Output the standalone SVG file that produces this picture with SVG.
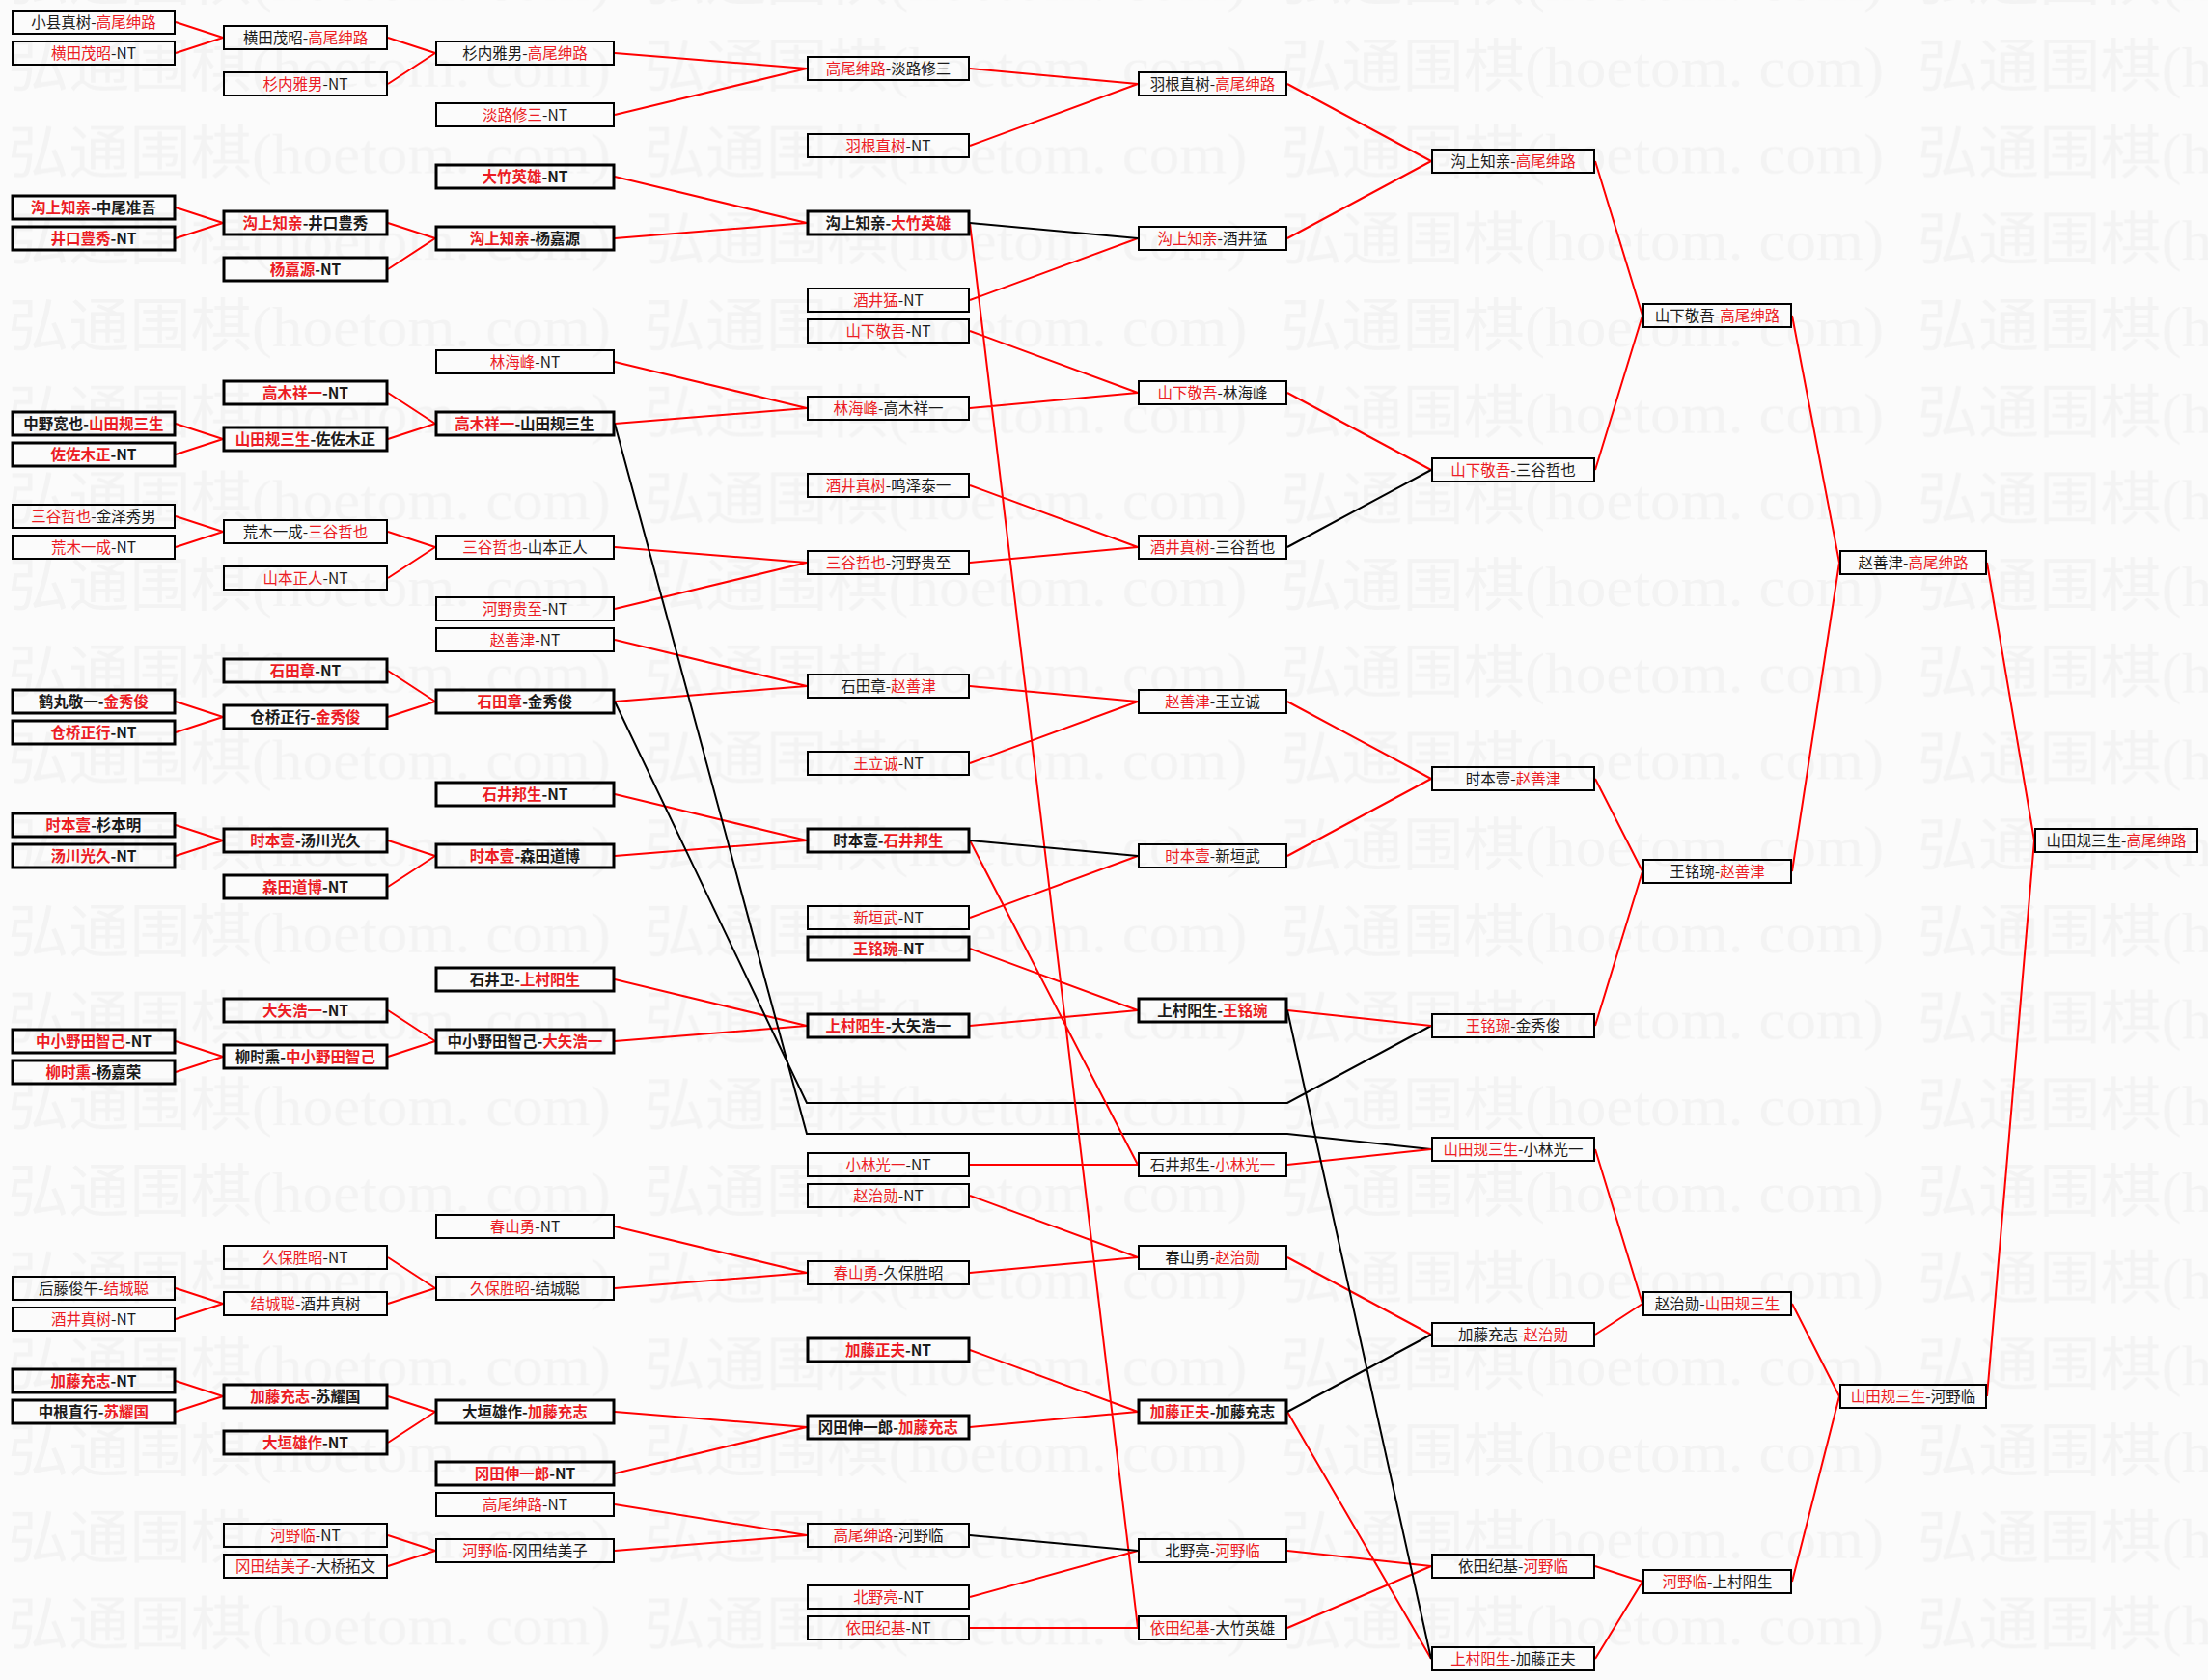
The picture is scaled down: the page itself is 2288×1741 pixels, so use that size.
<svg xmlns="http://www.w3.org/2000/svg" width="2288" height="1741" viewBox="0 0 2288 1741">
<style>
.n rect{fill:none;stroke:#000;stroke-width:2}
.b rect{stroke-width:3}
.n text{font-family:"Noto Sans CJK SC","Noto Sans",sans-serif;font-size:15.5px;text-anchor:middle;fill:#1a1a1a}
.b text{font-weight:bold}
.n .r{fill:#ec1c24}
.red{stroke:#ff0000;stroke-width:2;fill:none}
.blk{stroke:#000;stroke-width:2;fill:none}
</style>
<defs>
<pattern id="wm" patternUnits="userSpaceOnUse" x="0" y="22" width="659.6" height="89.7">
<text x="8" y="68" font-family="'Liberation Serif','Noto Sans CJK SC',serif" font-size="60" fill="#f3f3f3" textLength="625" lengthAdjust="spacingAndGlyphs">弘通围棋(hoetom. com)</text>
</pattern>
</defs>
<rect width="2288" height="1741" fill="#fbfbfb"/>
<rect width="2288" height="1741" fill="url(#wm)"/>
<g id="connectors">
<path class="red" d="M182 23L231 39M182 55L231 39M182 215L231 231M182 247L231 231M182 439L231 455M182 471L231 455M182 535L231 551M182 567L231 551M182 727L231 743M182 759L231 743M182 855L231 871M182 887L231 871M182 1079L231 1095M182 1111L231 1095M182 1335L231 1351M182 1367L231 1351M182 1431L231 1447M182 1463L231 1447"/>
<path class="red" d="M402 39L451 55M402 87L451 55M402 231L451 247M402 279L451 247M402 407L451 439M402 455L451 439M402 551L451 567M402 599L451 567M402 695L451 727M402 743L451 727M402 871L451 887M402 919L451 887M402 1047L451 1079M402 1095L451 1079M402 1303L451 1335M402 1351L451 1335M402 1447L451 1463M402 1495L451 1463M402 1591L451 1607M402 1623L451 1607"/>
<path class="red" d="M637 55L836 71M637 119L836 71M637 183L836 231M637 247L836 231M637 375L836 423M637 439L836 423M637 567L836 583M637 631L836 583M637 663L836 711M637 727L836 711M637 823L836 871M637 887L836 871M637 1015L836 1063M637 1079L836 1063M637 1271L836 1319M637 1335L836 1319M637 1463L836 1479M637 1527L836 1479M637 1559L836 1591M637 1607L836 1591"/>
<path class="blk" d="M637 439L836 1175L1334 1175L1483 1191"/>
<path class="blk" d="M637 727L836 1143L1334 1143L1483 1063"/>
<path class="red" d="M1005 71L1179 87M1005 151L1179 87M1005 311L1179 247M1005 343L1179 407M1005 423L1179 407M1005 503L1179 567M1005 583L1179 567M1005 711L1179 727M1005 791L1179 727M1005 951L1179 887M1005 983L1179 1047M1005 1063L1179 1047M1005 1207L1179 1207M1005 871L1179 1207M1005 1239L1179 1303M1005 1319L1179 1303M1005 1399L1179 1463M1005 1479L1179 1463M1005 1655L1179 1607M1005 1687L1179 1687M1005 231L1179 1687"/>
<path class="blk" d="M1005 231L1179 247M1005 871L1179 887M1005 1591L1179 1607"/>
<path class="red" d="M1334 87L1483 167M1334 247L1483 167M1334 407L1483 487M1334 727L1483 807M1334 887L1483 807M1334 1047L1483 1063M1334 1207L1483 1191M1334 1303L1483 1383M1334 1607L1483 1623M1334 1687L1483 1623M1334 1463L1483 1719"/>
<path class="blk" d="M1334 567L1483 487M1334 1463L1483 1383M1334 1047L1483 1719"/>
<path class="red" d="M1653 167L1702 327M1653 487L1702 327M1653 807L1702 903M1653 1063L1702 903M1653 1191L1702 1351M1653 1383L1702 1351M1653 1623L1702 1639M1653 1719L1702 1639"/>
<path class="red" d="M1857 327L1906 583M1857 903L1906 583M1857 1351L1906 1447M1857 1639L1906 1447"/>
<path class="red" d="M2059 583L2108 871M2059 1447L2108 871"/>
</g>
<g id="col1">
<g id="c1a" class="n"><rect x="13" y="11" width="168" height="24"/><text x="97" y="28.5">小县真树-<tspan class="r">高尾绅路</tspan></text></g>
<g id="c1b" class="n"><rect x="13" y="43" width="168" height="24"/><text x="97" y="60.5"><tspan class="r">横田茂昭</tspan>-NT</text></g>
<g id="c1c" class="n b"><rect x="13" y="203" width="168" height="24"/><text x="97" y="220.5"><tspan class="r">沟上知亲</tspan>-中尾准吾</text></g>
<g id="c1d" class="n b"><rect x="13" y="235" width="168" height="24"/><text x="97" y="252.5"><tspan class="r">井口豊秀</tspan>-NT</text></g>
<g id="c1e" class="n b"><rect x="13" y="427" width="168" height="24"/><text x="97" y="444.5">中野宽也-<tspan class="r">山田规三生</tspan></text></g>
<g id="c1f" class="n b"><rect x="13" y="459" width="168" height="24"/><text x="97" y="476.5"><tspan class="r">佐佐木正</tspan>-NT</text></g>
<g id="c1g" class="n"><rect x="13" y="523" width="168" height="24"/><text x="97" y="540.5"><tspan class="r">三谷哲也</tspan>-金泽秀男</text></g>
<g id="c1h" class="n"><rect x="13" y="555" width="168" height="24"/><text x="97" y="572.5"><tspan class="r">荒木一成</tspan>-NT</text></g>
<g id="c1i" class="n b"><rect x="13" y="715" width="168" height="24"/><text x="97" y="732.5">鹤丸敬一-<tspan class="r">金秀俊</tspan></text></g>
<g id="c1j" class="n b"><rect x="13" y="747" width="168" height="24"/><text x="97" y="764.5"><tspan class="r">仓桥正行</tspan>-NT</text></g>
<g id="c1k" class="n b"><rect x="13" y="843" width="168" height="24"/><text x="97" y="860.5"><tspan class="r">时本壹</tspan>-杉本明</text></g>
<g id="c1l" class="n b"><rect x="13" y="875" width="168" height="24"/><text x="97" y="892.5"><tspan class="r">汤川光久</tspan>-NT</text></g>
<g id="c1m" class="n b"><rect x="13" y="1067" width="168" height="24"/><text x="97" y="1084.5"><tspan class="r">中小野田智己</tspan>-NT</text></g>
<g id="c1n" class="n b"><rect x="13" y="1099" width="168" height="24"/><text x="97" y="1116.5"><tspan class="r">柳时熏</tspan>-杨嘉荣</text></g>
<g id="c1o" class="n"><rect x="13" y="1323" width="168" height="24"/><text x="97" y="1340.5">后藤俊午-<tspan class="r">结城聪</tspan></text></g>
<g id="c1p" class="n"><rect x="13" y="1355" width="168" height="24"/><text x="97" y="1372.5"><tspan class="r">酒井真树</tspan>-NT</text></g>
<g id="c1q" class="n b"><rect x="13" y="1419" width="168" height="24"/><text x="97" y="1436.5"><tspan class="r">加藤充志</tspan>-NT</text></g>
<g id="c1r" class="n b"><rect x="13" y="1451" width="168" height="24"/><text x="97" y="1468.5">中根直行-<tspan class="r">苏耀国</tspan></text></g>
</g>
<g id="col2">
<g id="c2a" class="n"><rect x="232" y="27" width="169" height="24"/><text x="316.5" y="44.5">横田茂昭-<tspan class="r">高尾绅路</tspan></text></g>
<g id="c2b" class="n"><rect x="232" y="75" width="169" height="24"/><text x="316.5" y="92.5"><tspan class="r">杉内雅男</tspan>-NT</text></g>
<g id="c2c" class="n b"><rect x="232" y="219" width="169" height="24"/><text x="316.5" y="236.5"><tspan class="r">沟上知亲</tspan>-井口豊秀</text></g>
<g id="c2d" class="n b"><rect x="232" y="267" width="169" height="24"/><text x="316.5" y="284.5"><tspan class="r">杨嘉源</tspan>-NT</text></g>
<g id="c2e" class="n b"><rect x="232" y="395" width="169" height="24"/><text x="316.5" y="412.5"><tspan class="r">高木祥一</tspan>-NT</text></g>
<g id="c2f" class="n b"><rect x="232" y="443" width="169" height="24"/><text x="316.5" y="460.5"><tspan class="r">山田规三生</tspan>-佐佐木正</text></g>
<g id="c2g" class="n"><rect x="232" y="539" width="169" height="24"/><text x="316.5" y="556.5">荒木一成-<tspan class="r">三谷哲也</tspan></text></g>
<g id="c2h" class="n"><rect x="232" y="587" width="169" height="24"/><text x="316.5" y="604.5"><tspan class="r">山本正人</tspan>-NT</text></g>
<g id="c2i" class="n b"><rect x="232" y="683" width="169" height="24"/><text x="316.5" y="700.5"><tspan class="r">石田章</tspan>-NT</text></g>
<g id="c2j" class="n b"><rect x="232" y="731" width="169" height="24"/><text x="316.5" y="748.5">仓桥正行-<tspan class="r">金秀俊</tspan></text></g>
<g id="c2k" class="n b"><rect x="232" y="859" width="169" height="24"/><text x="316.5" y="876.5"><tspan class="r">时本壹</tspan>-汤川光久</text></g>
<g id="c2l" class="n b"><rect x="232" y="907" width="169" height="24"/><text x="316.5" y="924.5"><tspan class="r">森田道博</tspan>-NT</text></g>
<g id="c2m" class="n b"><rect x="232" y="1035" width="169" height="24"/><text x="316.5" y="1052.5"><tspan class="r">大矢浩一</tspan>-NT</text></g>
<g id="c2n" class="n b"><rect x="232" y="1083" width="169" height="24"/><text x="316.5" y="1100.5">柳时熏-<tspan class="r">中小野田智己</tspan></text></g>
<g id="c2o" class="n"><rect x="232" y="1291" width="169" height="24"/><text x="316.5" y="1308.5"><tspan class="r">久保胜昭</tspan>-NT</text></g>
<g id="c2p" class="n"><rect x="232" y="1339" width="169" height="24"/><text x="316.5" y="1356.5"><tspan class="r">结城聪</tspan>-酒井真树</text></g>
<g id="c2q" class="n b"><rect x="232" y="1435" width="169" height="24"/><text x="316.5" y="1452.5"><tspan class="r">加藤充志</tspan>-苏耀国</text></g>
<g id="c2r" class="n b"><rect x="232" y="1483" width="169" height="24"/><text x="316.5" y="1500.5"><tspan class="r">大垣雄作</tspan>-NT</text></g>
<g id="c2s" class="n"><rect x="232" y="1579" width="169" height="24"/><text x="316.5" y="1596.5"><tspan class="r">河野临</tspan>-NT</text></g>
<g id="c2t" class="n"><rect x="232" y="1611" width="169" height="24"/><text x="316.5" y="1628.5"><tspan class="r">冈田结美子</tspan>-大桥拓文</text></g>
</g>
<g id="col3">
<g id="c3a" class="n"><rect x="452" y="43" width="184" height="24"/><text x="544" y="60.5">杉内雅男-<tspan class="r">高尾绅路</tspan></text></g>
<g id="c3b" class="n"><rect x="452" y="107" width="184" height="24"/><text x="544" y="124.5"><tspan class="r">淡路修三</tspan>-NT</text></g>
<g id="c3c" class="n b"><rect x="452" y="171" width="184" height="24"/><text x="544" y="188.5"><tspan class="r">大竹英雄</tspan>-NT</text></g>
<g id="c3d" class="n b"><rect x="452" y="235" width="184" height="24"/><text x="544" y="252.5"><tspan class="r">沟上知亲</tspan>-杨嘉源</text></g>
<g id="c3e" class="n"><rect x="452" y="363" width="184" height="24"/><text x="544" y="380.5"><tspan class="r">林海峰</tspan>-NT</text></g>
<g id="c3f" class="n b"><rect x="452" y="427" width="184" height="24"/><text x="544" y="444.5"><tspan class="r">高木祥一</tspan>-山田规三生</text></g>
<g id="c3g" class="n"><rect x="452" y="555" width="184" height="24"/><text x="544" y="572.5"><tspan class="r">三谷哲也</tspan>-山本正人</text></g>
<g id="c3h" class="n"><rect x="452" y="619" width="184" height="24"/><text x="544" y="636.5"><tspan class="r">河野贵至</tspan>-NT</text></g>
<g id="c3i" class="n"><rect x="452" y="651" width="184" height="24"/><text x="544" y="668.5"><tspan class="r">赵善津</tspan>-NT</text></g>
<g id="c3j" class="n b"><rect x="452" y="715" width="184" height="24"/><text x="544" y="732.5"><tspan class="r">石田章</tspan>-金秀俊</text></g>
<g id="c3k" class="n b"><rect x="452" y="811" width="184" height="24"/><text x="544" y="828.5"><tspan class="r">石井邦生</tspan>-NT</text></g>
<g id="c3l" class="n b"><rect x="452" y="875" width="184" height="24"/><text x="544" y="892.5"><tspan class="r">时本壹</tspan>-森田道博</text></g>
<g id="c3m" class="n b"><rect x="452" y="1003" width="184" height="24"/><text x="544" y="1020.5">石井卫-<tspan class="r">上村阳生</tspan></text></g>
<g id="c3n" class="n b"><rect x="452" y="1067" width="184" height="24"/><text x="544" y="1084.5">中小野田智己-<tspan class="r">大矢浩一</tspan></text></g>
<g id="c3o" class="n"><rect x="452" y="1259" width="184" height="24"/><text x="544" y="1276.5"><tspan class="r">春山勇</tspan>-NT</text></g>
<g id="c3p" class="n"><rect x="452" y="1323" width="184" height="24"/><text x="544" y="1340.5"><tspan class="r">久保胜昭</tspan>-结城聪</text></g>
<g id="c3q" class="n b"><rect x="452" y="1451" width="184" height="24"/><text x="544" y="1468.5">大垣雄作-<tspan class="r">加藤充志</tspan></text></g>
<g id="c3r" class="n b"><rect x="452" y="1515" width="184" height="24"/><text x="544" y="1532.5"><tspan class="r">冈田伸一郎</tspan>-NT</text></g>
<g id="c3s" class="n"><rect x="452" y="1547" width="184" height="24"/><text x="544" y="1564.5"><tspan class="r">高尾绅路</tspan>-NT</text></g>
<g id="c3t" class="n"><rect x="452" y="1595" width="184" height="24"/><text x="544" y="1612.5"><tspan class="r">河野临</tspan>-冈田结美子</text></g>
</g>
<g id="col4">
<g id="c4a" class="n"><rect x="837" y="59" width="167" height="24"/><text x="920.5" y="76.5"><tspan class="r">高尾绅路</tspan>-淡路修三</text></g>
<g id="c4b" class="n"><rect x="837" y="139" width="167" height="24"/><text x="920.5" y="156.5"><tspan class="r">羽根直树</tspan>-NT</text></g>
<g id="c4c" class="n b"><rect x="837" y="219" width="167" height="24"/><text x="920.5" y="236.5">沟上知亲-<tspan class="r">大竹英雄</tspan></text></g>
<g id="c4d" class="n"><rect x="837" y="299" width="167" height="24"/><text x="920.5" y="316.5"><tspan class="r">酒井猛</tspan>-NT</text></g>
<g id="c4e" class="n"><rect x="837" y="331" width="167" height="24"/><text x="920.5" y="348.5"><tspan class="r">山下敬吾</tspan>-NT</text></g>
<g id="c4f" class="n"><rect x="837" y="411" width="167" height="24"/><text x="920.5" y="428.5"><tspan class="r">林海峰</tspan>-高木祥一</text></g>
<g id="c4g" class="n"><rect x="837" y="491" width="167" height="24"/><text x="920.5" y="508.5"><tspan class="r">酒井真树</tspan>-鸣泽泰一</text></g>
<g id="c4h" class="n"><rect x="837" y="571" width="167" height="24"/><text x="920.5" y="588.5"><tspan class="r">三谷哲也</tspan>-河野贵至</text></g>
<g id="c4i" class="n"><rect x="837" y="699" width="167" height="24"/><text x="920.5" y="716.5">石田章-<tspan class="r">赵善津</tspan></text></g>
<g id="c4j" class="n"><rect x="837" y="779" width="167" height="24"/><text x="920.5" y="796.5"><tspan class="r">王立诚</tspan>-NT</text></g>
<g id="c4k" class="n b"><rect x="837" y="859" width="167" height="24"/><text x="920.5" y="876.5">时本壹-<tspan class="r">石井邦生</tspan></text></g>
<g id="c4l" class="n"><rect x="837" y="939" width="167" height="24"/><text x="920.5" y="956.5"><tspan class="r">新垣武</tspan>-NT</text></g>
<g id="c4m" class="n b"><rect x="837" y="971" width="167" height="24"/><text x="920.5" y="988.5"><tspan class="r">王铭琬</tspan>-NT</text></g>
<g id="c4n" class="n b"><rect x="837" y="1051" width="167" height="24"/><text x="920.5" y="1068.5"><tspan class="r">上村阳生</tspan>-大矢浩一</text></g>
<g id="c4o" class="n"><rect x="837" y="1195" width="167" height="24"/><text x="920.5" y="1212.5"><tspan class="r">小林光一</tspan>-NT</text></g>
<g id="c4p" class="n"><rect x="837" y="1227" width="167" height="24"/><text x="920.5" y="1244.5"><tspan class="r">赵治勋</tspan>-NT</text></g>
<g id="c4q" class="n"><rect x="837" y="1307" width="167" height="24"/><text x="920.5" y="1324.5"><tspan class="r">春山勇</tspan>-久保胜昭</text></g>
<g id="c4r" class="n b"><rect x="837" y="1387" width="167" height="24"/><text x="920.5" y="1404.5"><tspan class="r">加藤正夫</tspan>-NT</text></g>
<g id="c4s" class="n b"><rect x="837" y="1467" width="167" height="24"/><text x="920.5" y="1484.5">冈田伸一郎-<tspan class="r">加藤充志</tspan></text></g>
<g id="c4t" class="n"><rect x="837" y="1579" width="167" height="24"/><text x="920.5" y="1596.5"><tspan class="r">高尾绅路</tspan>-河野临</text></g>
<g id="c4u" class="n"><rect x="837" y="1643" width="167" height="24"/><text x="920.5" y="1660.5"><tspan class="r">北野亮</tspan>-NT</text></g>
<g id="c4v" class="n"><rect x="837" y="1675" width="167" height="24"/><text x="920.5" y="1692.5"><tspan class="r">依田纪基</tspan>-NT</text></g>
</g>
<g id="col5">
<g id="c5a" class="n"><rect x="1180" y="75" width="153" height="24"/><text x="1256.5" y="92.5">羽根直树-<tspan class="r">高尾绅路</tspan></text></g>
<g id="c5b" class="n"><rect x="1180" y="235" width="153" height="24"/><text x="1256.5" y="252.5"><tspan class="r">沟上知亲</tspan>-酒井猛</text></g>
<g id="c5c" class="n"><rect x="1180" y="395" width="153" height="24"/><text x="1256.5" y="412.5"><tspan class="r">山下敬吾</tspan>-林海峰</text></g>
<g id="c5d" class="n"><rect x="1180" y="555" width="153" height="24"/><text x="1256.5" y="572.5"><tspan class="r">酒井真树</tspan>-三谷哲也</text></g>
<g id="c5e" class="n"><rect x="1180" y="715" width="153" height="24"/><text x="1256.5" y="732.5"><tspan class="r">赵善津</tspan>-王立诚</text></g>
<g id="c5f" class="n"><rect x="1180" y="875" width="153" height="24"/><text x="1256.5" y="892.5"><tspan class="r">时本壹</tspan>-新垣武</text></g>
<g id="c5g" class="n b"><rect x="1180" y="1035" width="153" height="24"/><text x="1256.5" y="1052.5">上村阳生-<tspan class="r">王铭琬</tspan></text></g>
<g id="c5h" class="n"><rect x="1180" y="1195" width="153" height="24"/><text x="1256.5" y="1212.5">石井邦生-<tspan class="r">小林光一</tspan></text></g>
<g id="c5i" class="n"><rect x="1180" y="1291" width="153" height="24"/><text x="1256.5" y="1308.5">春山勇-<tspan class="r">赵治勋</tspan></text></g>
<g id="c5j" class="n b"><rect x="1180" y="1451" width="153" height="24"/><text x="1256.5" y="1468.5"><tspan class="r">加藤正夫</tspan>-加藤充志</text></g>
<g id="c5k" class="n"><rect x="1180" y="1595" width="153" height="24"/><text x="1256.5" y="1612.5">北野亮-<tspan class="r">河野临</tspan></text></g>
<g id="c5l" class="n"><rect x="1180" y="1675" width="153" height="24"/><text x="1256.5" y="1692.5"><tspan class="r">依田纪基</tspan>-大竹英雄</text></g>
</g>
<g id="col6">
<g id="c6a" class="n"><rect x="1484" y="155" width="168" height="24"/><text x="1568" y="172.5">沟上知亲-<tspan class="r">高尾绅路</tspan></text></g>
<g id="c6b" class="n"><rect x="1484" y="475" width="168" height="24"/><text x="1568" y="492.5"><tspan class="r">山下敬吾</tspan>-三谷哲也</text></g>
<g id="c6c" class="n"><rect x="1484" y="795" width="168" height="24"/><text x="1568" y="812.5">时本壹-<tspan class="r">赵善津</tspan></text></g>
<g id="c6d" class="n"><rect x="1484" y="1051" width="168" height="24"/><text x="1568" y="1068.5"><tspan class="r">王铭琬</tspan>-金秀俊</text></g>
<g id="c6e" class="n"><rect x="1484" y="1179" width="168" height="24"/><text x="1568" y="1196.5"><tspan class="r">山田规三生</tspan>-小林光一</text></g>
<g id="c6f" class="n"><rect x="1484" y="1371" width="168" height="24"/><text x="1568" y="1388.5">加藤充志-<tspan class="r">赵治勋</tspan></text></g>
<g id="c6g" class="n"><rect x="1484" y="1611" width="168" height="24"/><text x="1568" y="1628.5">依田纪基-<tspan class="r">河野临</tspan></text></g>
<g id="c6h" class="n"><rect x="1484" y="1707" width="168" height="24"/><text x="1568" y="1724.5"><tspan class="r">上村阳生</tspan>-加藤正夫</text></g>
</g>
<g id="col7">
<g id="c7a" class="n"><rect x="1703" y="315" width="153" height="24"/><text x="1779.5" y="332.5">山下敬吾-<tspan class="r">高尾绅路</tspan></text></g>
<g id="c7b" class="n"><rect x="1703" y="891" width="153" height="24"/><text x="1779.5" y="908.5">王铭琬-<tspan class="r">赵善津</tspan></text></g>
<g id="c7c" class="n"><rect x="1703" y="1339" width="153" height="24"/><text x="1779.5" y="1356.5">赵治勋-<tspan class="r">山田规三生</tspan></text></g>
<g id="c7d" class="n"><rect x="1703" y="1627" width="153" height="24"/><text x="1779.5" y="1644.5"><tspan class="r">河野临</tspan>-上村阳生</text></g>
</g>
<g id="col8">
<g id="c8a" class="n"><rect x="1907" y="571" width="151" height="24"/><text x="1982.5" y="588.5">赵善津-<tspan class="r">高尾绅路</tspan></text></g>
<g id="c8b" class="n"><rect x="1907" y="1435" width="151" height="24"/><text x="1982.5" y="1452.5"><tspan class="r">山田规三生</tspan>-河野临</text></g>
</g>
<g id="col9">
<g id="c9a" class="n"><rect x="2109" y="859" width="168" height="24"/><text x="2193" y="876.5">山田规三生-<tspan class="r">高尾绅路</tspan></text></g>
</g>
</svg>
